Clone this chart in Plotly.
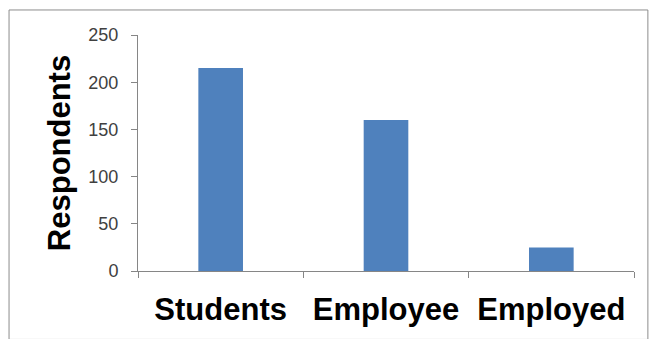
import plotly.graph_objects as go

categories = ["Students", "Employee", "Employed"]
respondents = [215, 160, 25]
y_ticks = [0, 50, 100, 150, 200, 250]

fig = go.Figure()
fig.add_trace(go.Bar(x=categories, y=respondents, width=0.27,
                     marker=dict(color="#4F81BD", line=dict(width=0))))

fig.update_layout(
    width=657, height=339,
    margin=dict(l=138, r=23, t=35, b=68),
    paper_bgcolor="white", plot_bgcolor="white",
    showlegend=False,
    font=dict(family="Liberation Sans, Arial", color="#000000"),
    shapes=[dict(type="rect", xref="paper", yref="paper",
                 x0=-0.26, x1=1.028, y0=-0.29, y1=1.106,
                 line=dict(color="#8C8C8C", width=1), fillcolor="rgba(0,0,0,0)")],
)
fig.update_xaxes(
    type="category", tickson="boundaries", ticks="outside", ticklen=6,
    tickcolor="#868686", showline=True, linecolor="#868686", linewidth=1,
    showgrid=False,
    tickfont=dict(size=31, color="#000000", family="Liberation Sans, Arial", weight="bold"),
    ticklabelstandoff=11,
)
fig.update_yaxes(
    range=[0, 250], tickvals=y_ticks, ticks="outside", ticklen=6,
    tickcolor="#868686", showline=True, linecolor="#868686", linewidth=1,
    showgrid=False, zeroline=False,
    tickfont=dict(size=18, color="#404040", family="Liberation Sans, Arial"),
    ticklabelstandoff=9,
    title=dict(text="Respondents", font=dict(size=31, color="#000000", weight="bold"), standoff=8),
)

fig.write_html("out.html")
